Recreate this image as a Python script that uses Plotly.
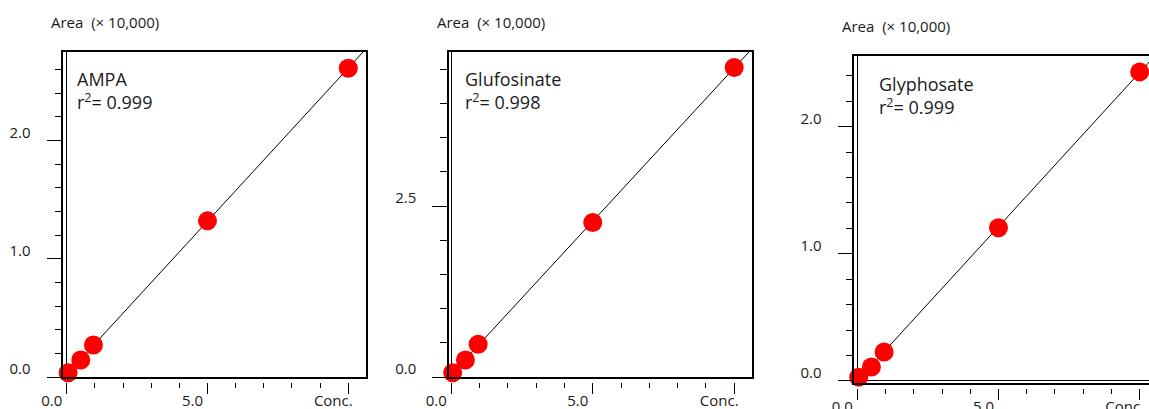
import numpy as np
import plotly.graph_objects as go

# ---------------- data ----------------
conc = [0.05, 0.5, 0.95, 5.0, 10.0]
ampa_area = [0.036, 0.144, 0.27, 1.32, 2.61]
glufosinate_area = [0.063, 0.25, 0.48, 2.26, 4.53]
glyphosate_area = [0.03, 0.11, 0.228, 1.205, 2.43]
names = ["AMPA", "Glufosinate", "Glyphosate"]
r2_labels = ["0.999", "0.998", "0.999"]
x_tick_vals = [0, 5, 10]
x_tick_text = ["0.0", "5.0", "Conc."]
y_major_ticks = [[0, 1, 2], [0, 2.5], [0, 1, 2]]
y_minor_step = [0.2, 0.5, 0.2]
y_unit_label = "Area\u00a0 (\u00d7 10,000)"

areas = [ampa_area, glufosinate_area, glyphosate_area]

# ---------------- layout geometry (pixels) ----------------
W, H = 1149, 409
panels = [
    dict(x0=63.3, x1=366.3, y0=51.7, y1=377.0, xr=[-0.12, 10.64], yr=[0.0, 2.75],
         title=(49, 22), label=(75, 90.5)),
    dict(x0=449.0, x1=752.3, y0=51.7, y1=377.0, xr=[-0.08, 10.64], yr=[0.0, 4.76],
         title=(435, 22), label=(463, 90.5)),
    dict(x0=854.3, x1=1149.0, y0=56.0, y1=383.0, xr=[-0.106, 10.33], yr=[-0.016, 2.555],
         title=(840, 26.5), label=(876.5, 96)),
]

def fx(px):
    return px / W

def fy(py):
    return 1 - py / H

FONT = "Open Sans"
fig = go.Figure()
layout = dict(
    width=W, height=H,
    margin=dict(l=0, r=0, t=0, b=0, autoexpand=False),
    paper_bgcolor="white", plot_bgcolor="white",
    showlegend=False,
    font=dict(family=FONT, color="#1a1a1a", size=15),
    annotations=[],
)

for i, p in enumerate(panels):
    n = i + 1
    xa = "x" if n == 1 else f"x{n}"
    ya = "y" if n == 1 else f"y{n}"
    ox = f"x{n + 3}"
    area = areas[i]

    # regression line from the data
    slope, icpt = np.polyfit(conc, area, 1)
    lx = np.array([0.0, p["xr"][1] * 1.2])
    fig.add_trace(go.Scatter(x=lx, y=slope * lx + icpt, mode="lines",
                             line=dict(color="black", width=1),
                             xaxis=xa, yaxis=ya, hoverinfo="skip"))
    fig.add_trace(go.Scatter(x=conc, y=area, mode="markers",
                             marker=dict(color="#ff0000", size=19, line=dict(width=0)),
                             cliponaxis=False, xaxis=xa, yaxis=ya))
    # invisible trace to host the tick axis
    fig.add_trace(go.Scatter(x=conc[:1], y=area[:1], mode="markers",
                             marker=dict(opacity=0), xaxis=ox, yaxis=ya, hoverinfo="skip"))

    dom_x = [fx(p["x0"]), min(1.0, fx(p["x1"]))]
    dom_y = [fy(p["y1"]), fy(p["y0"])]

    layout[f"xaxis{n if n > 1 else ''}"] = dict(
        domain=dom_x, range=p["xr"], anchor=ya, automargin=False,
        showline=True, mirror=True, linecolor="black", linewidth=1.5,
        showgrid=False, zeroline=True, zerolinecolor="black", zerolinewidth=1,
        ticks="", showticklabels=False, fixedrange=True,
    )
    layout[f"xaxis{n + 3}"] = dict(
        overlaying=xa, anchor="free", position=fy(p["y1"] + 5), automargin=False,
        range=p["xr"], showline=False, showgrid=False, zeroline=False,
        tickmode="array", tickvals=x_tick_vals, ticktext=x_tick_text,
        ticks="outside", ticklen=11, tickwidth=1.3, tickcolor="black",
        minor=dict(tickmode="array", tickvals=list(range(0, 11)), ticks="outside",
                   ticklen=5, tickwidth=1.3, tickcolor="black", showgrid=False),
        tickfont=dict(size=15, family=FONT, color="#1a1a1a"),
        ticklabelshift=-15, ticklabelstandoff=-6,
    )
    ymin = np.arange(0, p["yr"][1], y_minor_step[i])
    layout[f"yaxis{n if n > 1 else ''}"] = dict(
        domain=dom_y, range=p["yr"], anchor=xa, automargin=False,
        showline=True, mirror=(n != 3), linecolor="black", linewidth=1.5,
        showgrid=False, zeroline=(n == 3), zerolinecolor="black", zerolinewidth=1,
        tickmode="array", tickvals=y_major_ticks[i], tickformat=".1f",
        ticks="outside", ticklen=15, tickwidth=1.3, tickcolor="black",
        minor=dict(tickmode="array", tickvals=list(ymin), ticks="outside",
                   ticklen=7, tickwidth=1.3, tickcolor="black", showgrid=False),
        tickfont=dict(size=15, family=FONT, color="#1a1a1a"),
        ticklabelstandoff=13, ticklabelshift=-8,
    )

    layout["annotations"].append(dict(
        text=y_unit_label, xref="paper", yref="paper",
        x=fx(p["title"][0]), y=fy(p["title"][1]), xanchor="left", yanchor="middle",
        showarrow=False, font=dict(size=15, family=FONT, color="#1a1a1a")))
    layout["annotations"].append(dict(
        text=f"{names[i]}<br>r<sup>2</sup>= {r2_labels[i]}", xref="paper", yref="paper",
        x=fx(p["label"][0]), y=fy(p["label"][1]), xanchor="left", yanchor="middle",
        align="left", showarrow=False, font=dict(size=18, family=FONT, color="#1a1a1a")))

fig.update_layout(**layout)
fig.write_html("out.html", config={"displayModeBar": False},
               post_script="document.body.style.margin='0';document.body.style.padding='0';")
